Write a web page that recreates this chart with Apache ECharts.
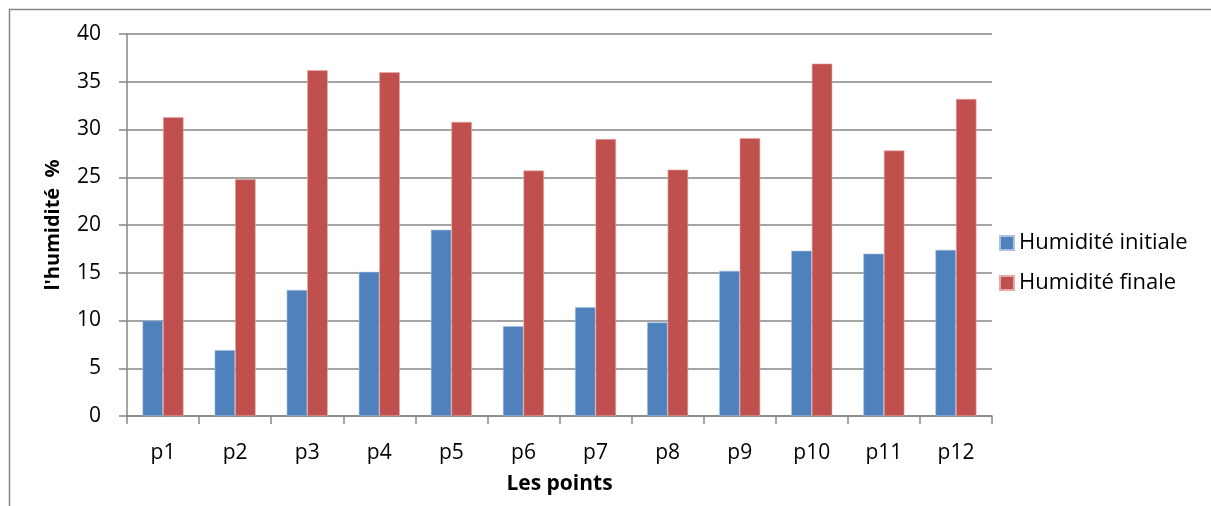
<!DOCTYPE html>
<html>
<head>
<meta charset="utf-8">
<script src="https://cdn.jsdelivr.net/npm/echarts@6/dist/echarts.min.js"></script>
<style>
html,body{margin:0;padding:0;background:#fff;}
#chart{width:1211px;height:506px;}
</style>
</head>
<body>
<div id="chart"></div>
<script>
const categories = ['p1','p2','p3','p4','p5','p6','p7','p8','p9','p10','p11','p12'];
const initiale = [10.0, 6.9, 13.2, 15.1, 19.5, 9.4, 11.4, 9.8, 15.2, 17.3, 17.0, 17.4];
const finale = [31.3, 24.8, 36.2, 36.0, 30.8, 25.7, 29.0, 25.8, 29.1, 36.9, 27.8, 33.2];
const seriesNames = ['Humidité initiale', 'Humidité finale'];
const FONT = '"Open Sans", sans-serif';

const chart = echarts.init(document.getElementById('chart'), null, {renderer: 'canvas'});
chart.setOption({
  animation: false,
  backgroundColor: '#ffffff',
  graphic: [{
    type: 'rect', shape: {x: 9.5, y: 9.5, width: 1240, height: 540},
    style: {fill: 'none', stroke: '#868686', lineWidth: 1.5}, silent: true, z: 0
  }],
  grid: {left: 127, right: 219, top: 34, bottom: 90, containLabel: false},
  legend: {
    orient: 'vertical', left: 994, top: 227, itemGap: 18,
    itemWidth: 14, itemHeight: 14, icon: 'rect',
    textStyle: {fontFamily: FONT, fontSize: 22, color: '#000'},
    data: seriesNames
  },
  xAxis: {
    type: 'category', data: categories,
    name: 'Les points', nameLocation: 'middle', nameGap: 58,
    nameTextStyle: {fontFamily: FONT, fontSize: 21, fontWeight: 'bold', color: '#000'},
    axisLine: {lineStyle: {color: '#868686', width: 1.5}},
    axisTick: {show: true, length: 8, lineStyle: {color: '#868686', width: 1.5}},
    axisLabel: {fontFamily: FONT, fontSize: 21, color: '#000', margin: 27}
  },
  yAxis: {
    type: 'value', min: 0, max: 40, interval: 5,
    name: "l'humidité  %", nameLocation: 'middle', nameGap: 64, nameRotate: 90,
    nameTextStyle: {fontFamily: FONT, fontSize: 20, fontWeight: 'bold', color: '#000'},
    axisLine: {show: true, lineStyle: {color: '#868686', width: 1.5}},
    axisTick: {show: true, length: 8, lineStyle: {color: '#868686', width: 1.5}},
    axisLabel: {fontFamily: FONT, fontSize: 21, color: '#000', margin: 26},
    splitLine: {lineStyle: {color: '#868686', width: 1.5}}
  },
  series: [
    {name: seriesNames[0], type: 'bar', data: initiale, barWidth: 20.5, barGap: '0%',
     itemStyle: {color: '#4f81bd', borderColor: '#a9c0de', borderWidth: 0.6}},
    {name: seriesNames[1], type: 'bar', data: finale, barWidth: 20.5,
     itemStyle: {color: '#c0504d', borderColor: '#e6a9a7', borderWidth: 0.6}}
  ]
});
</script>
</body>
</html>
